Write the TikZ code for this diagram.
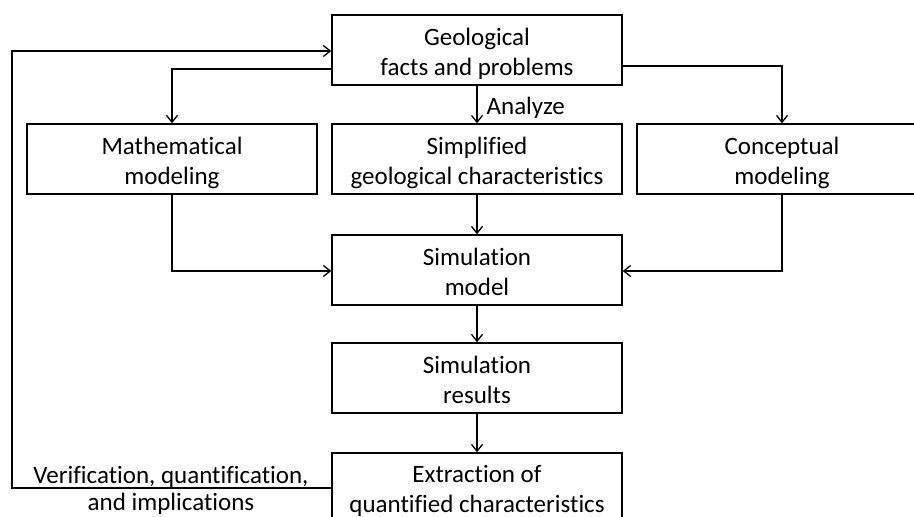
\documentclass[tikz,border=0pt]{standalone}
\usepackage{fontspec}
\setmainfont[Ligatures=NoCommon]{Carlito}
\usetikzlibrary{arrows.meta}
\newcommand{\bxs}{\rule{0pt}{26pt}}
\newcommand{\bxsb}{\rule{0pt}{24pt}}
\tikzset{
  box/.style={draw=black, line width=1.3pt, minimum width=290pt, minimum height=70pt,
    inner sep=0pt, align=center, font=\fontsize{25}{30}\selectfont,
    execute at end node={\rule[-6pt]{0pt}{6pt}}},
  lbl/.style={inner sep=0pt, align=center, font=\fontsize{25}{27}\selectfont,
    execute at end node={\rule[-6pt]{0pt}{6pt}}},
  arr/.style={line width=1.3pt, -{Straight Barb[length=7pt,width=11pt,line width=1.3pt]}}
}
\begin{document}
\begin{tikzpicture}[x=1pt,y=-1pt]
\useasboundingbox (0,0) rectangle (914,517);
\clip (0,0) rectangle (914,517);
\fill[white] (0,0) rectangle (914,517);
\node[box] (geo)  at (477,50)  {\bxs Geological\\facts and problems};
\node[box] (math) at (172,159) {\bxs Mathematical\\modeling};
\node[box] (simp) at (477,159) {\bxs Simplified\\geological characteristics};
\node[box] (conc) at (782,159) {\bxs Conceptual\\modeling};
\node[box] (simm) at (477,270) {\bxs Simulation\\model};
\node[box] (simr) at (477,378) {\bxs Simulation\\results};
\node[box] (extr) at (477,488) {\bxsb Extraction of\\quantified characteristics};
\coordinate (loop) at (12,300);
\node[lbl] (ver) at (171,491) {Verification, quantification,\\and implications};

\draw[arr] ([yshift=-19pt]geo.west) -| (math.north);
\draw[arr] ([yshift=-16pt]geo.east) -| (conc.north);
\draw[arr] (geo.south) -- node[right=9pt, inner sep=0pt, font=\fontsize{25}{30}\selectfont, yshift=-3pt] (an) {Analyze} (simp.north);
\draw[arr] (simp.south) -- (simm.north);
\draw[arr] (math.south) |- ([yshift=-1pt]simm.west);
\draw[arr] (conc.south) |- ([yshift=-1pt]simm.east);
\draw[arr] (simm.south) -- (simr.north);
\draw[arr] (simr.south) -- (extr.north);
\draw[arr] (extr.west) -| (loop) |- ([yshift=-1pt]geo.west);
\end{tikzpicture}
\end{document}
